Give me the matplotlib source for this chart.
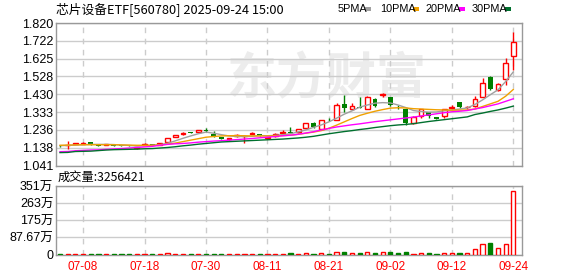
import numpy as np
import matplotlib
matplotlib.use('Agg')
import matplotlib.pyplot as plt
from matplotlib.patches import Rectangle

plt.rcParams['font.family'] = ['Noto Sans CJK SC', 'DejaVu Sans']

# daily data 2025-07-03 .. 2025-09-24
dates = ['07-03', '07-04', '07-07', '07-08', '07-09', '07-10', '07-11', '07-14', '07-15', '07-16',
         '07-17', '07-18', '07-21', '07-22', '07-23', '07-24', '07-25', '07-28', '07-29', '07-30',
         '07-31', '08-01', '08-04', '08-05', '08-06', '08-07', '08-08', '08-11', '08-12', '08-13',
         '08-14', '08-15', '08-18', '08-19', '08-20', '08-21', '08-22', '08-25', '08-26', '08-27',
         '08-28', '08-29', '09-01', '09-02', '09-03', '09-04', '09-05', '09-08', '09-09', '09-10',
         '09-11', '09-12', '09-15', '09-16', '09-17', '09-18', '09-19', '09-22', '09-23', '09-24']

opens = [1.149, 1.152, 1.160, 1.160, 1.168, 1.152, 1.156, 1.152, 1.151, 1.151,
         1.137, 1.155, 1.160, 1.154, 1.170, 1.198, 1.212, 1.223, 1.224, 1.238,
         1.214, 1.196, 1.185, 1.205, 1.200, 1.216, 1.212, 1.190, 1.200, 1.218,
         1.227, 1.222, 1.245, 1.276, 1.241, 1.292, 1.292, 1.378, 1.350, 1.362,
         1.352, 1.407, 1.426, 1.416, 1.362, 1.348, 1.275, 1.310, 1.334, 1.304,
         1.310, 1.358, 1.389, 1.359, 1.365, 1.416, 1.523, 1.452, 1.514, 1.637]
closes = [1.147, 1.155, 1.163, 1.164, 1.156, 1.150, 1.159, 1.149, 1.149, 1.149,
          1.142, 1.160, 1.156, 1.165, 1.192, 1.208, 1.217, 1.220, 1.236, 1.228,
          1.199, 1.188, 1.191, 1.208, 1.204, 1.219, 1.205, 1.196, 1.211, 1.226,
          1.218, 1.242, 1.272, 1.250, 1.290, 1.289, 1.373, 1.355, 1.364, 1.358,
          1.418, 1.366, 1.430, 1.370, 1.359, 1.271, 1.308, 1.348, 1.310, 1.298,
          1.348, 1.361, 1.360, 1.361, 1.406, 1.492, 1.462, 1.488, 1.600, 1.716]
highs = [1.151, 1.176, 1.166, 1.168, 1.170, 1.153, 1.161, 1.156, 1.152, 1.153,
         1.143, 1.163, 1.161, 1.167, 1.193, 1.210, 1.222, 1.224, 1.237, 1.245,
         1.230, 1.197, 1.193, 1.215, 1.206, 1.225, 1.213, 1.197, 1.220, 1.234,
         1.250, 1.243, 1.274, 1.278, 1.292, 1.300, 1.382, 1.427, 1.382, 1.415,
         1.419, 1.409, 1.440, 1.418, 1.372, 1.350, 1.310, 1.352, 1.336, 1.306,
         1.352, 1.370, 1.390, 1.368, 1.422, 1.519, 1.528, 1.490, 1.628, 1.769]
lows = [1.145, 1.133, 1.158, 1.157, 1.155, 1.148, 1.154, 1.148, 1.148, 1.147,
        1.134, 1.153, 1.155, 1.152, 1.168, 1.196, 1.210, 1.219, 1.223, 1.226,
        1.198, 1.186, 1.183, 1.198, 1.165, 1.214, 1.204, 1.189, 1.198, 1.217,
        1.217, 1.220, 1.243, 1.248, 1.239, 1.283, 1.290, 1.336, 1.345, 1.355,
        1.349, 1.362, 1.415, 1.368, 1.350, 1.262, 1.268, 1.300, 1.300, 1.296,
        1.300, 1.350, 1.357, 1.352, 1.360, 1.414, 1.455, 1.450, 1.482, 1.561]

# moving averages as shown on the chart
ma5 = [1.150, 1.151, 1.153, 1.155, 1.157, 1.157, 1.157, 1.156, 1.153, 1.151,
       1.148, 1.150, 1.152, 1.155, 1.163, 1.176, 1.190, 1.203, 1.215, 1.224,
       1.218, 1.210, 1.203, 1.200, 1.199, 1.201, 1.205, 1.204, 1.206, 1.210,
       1.215, 1.225, 1.236, 1.250, 1.263, 1.280, 1.300, 1.322, 1.340, 1.360,
       1.372, 1.382, 1.385, 1.383, 1.372, 1.358, 1.342, 1.336, 1.333, 1.334,
       1.340, 1.345, 1.350, 1.356, 1.375, 1.400, 1.428, 1.455, 1.500, 1.553]
ma10 = [1.152, 1.153, 1.154, 1.155, 1.155, 1.155, 1.155, 1.155, 1.154, 1.153,
        1.152, 1.152, 1.152, 1.154, 1.158, 1.164, 1.172, 1.180, 1.188, 1.196,
        1.200, 1.203, 1.204, 1.205, 1.204, 1.203, 1.203, 1.203, 1.204, 1.205,
        1.207, 1.212, 1.218, 1.224, 1.232, 1.245, 1.262, 1.280, 1.298, 1.315,
        1.327, 1.338, 1.347, 1.355, 1.357, 1.356, 1.352, 1.350, 1.348, 1.346,
        1.345, 1.344, 1.344, 1.345, 1.350, 1.364, 1.378, 1.392, 1.420, 1.457]
ma20 = [1.117, 1.118, 1.122, 1.124, 1.126, 1.127, 1.130, 1.132, 1.134, 1.137,
        1.140, 1.143, 1.146, 1.152, 1.157, 1.160, 1.162, 1.165, 1.169, 1.172,
        1.175, 1.177, 1.180, 1.183, 1.186, 1.189, 1.193, 1.196, 1.200, 1.204,
        1.207, 1.212, 1.219, 1.226, 1.236, 1.244, 1.252, 1.258, 1.264, 1.269,
        1.275, 1.281, 1.286, 1.291, 1.296, 1.301, 1.306, 1.312, 1.318, 1.324,
        1.330, 1.335, 1.338, 1.342, 1.350, 1.358, 1.368, 1.378, 1.392, 1.406]
ma30 = [1.112, 1.113, 1.118, 1.119, 1.120, 1.123, 1.126, 1.128, 1.129, 1.130,
        1.131, 1.133, 1.134, 1.137, 1.140, 1.144, 1.149, 1.153, 1.158, 1.162,
        1.166, 1.170, 1.172, 1.174, 1.176, 1.178, 1.180, 1.182, 1.184, 1.186,
        1.189, 1.192, 1.196, 1.201, 1.208, 1.215, 1.221, 1.227, 1.232, 1.238,
        1.243, 1.249, 1.254, 1.259, 1.263, 1.266, 1.270, 1.276, 1.282, 1.287,
        1.292, 1.297, 1.302, 1.307, 1.320, 1.328, 1.337, 1.345, 1.355, 1.366]

volumes = [38000, 42000, 35000, 36000, 33000, 30000, 34000, 31000, 30000, 32000,
           36000, 35000, 30000, 37000, 95000, 40000, 38000, 36000, 42000, 35000,
           37000, 34000, 33000, 36000, 40000, 38000, 35000, 36000, 40000, 39000,
           75000, 45000, 80000, 42000, 85000, 40000, 125000, 145000, 70000, 80000,
           120000, 75000, 150000, 120000, 75000, 130000, 40000, 65000, 70000, 45000,
           100000, 70000, 70000, 65000, 260000, 520000, 600000, 310000, 560000, 3256421]

price_ticks = [1.041, 1.138, 1.236, 1.333, 1.430, 1.528, 1.625, 1.722, 1.820]
vol_ticks = [0, 876700, 1750000, 2630000, 3510000]
vol_labels = ['0', '87.67万', '175万', '263万', '351万']
date_ticks = ['07-08', '07-18', '07-30', '08-11', '08-21', '09-02', '09-12', '09-24']

RED = '#ff0000'
GREEN = '#008000'
GRID = '#cccccc'
FRAME = '#999999'
NUM_FONT = ['Liberation Sans', 'Noto Sans CJK SC']

o = np.array(opens)
c = np.array(closes)
h = np.array(highs)
l = np.array(lows)
x = np.arange(len(dates))
prev = np.r_[c[0], c[:-1]]
is_red = (c > o) | ((c == o) & (c >= prev))

W, H = 578, 276
fig = plt.figure(figsize=(W / 100, H / 100), dpi=100)

def box(left, top, right, bottom):
    return [left / W, 1 - bottom / H, (right - left) / W, (bottom - top) / H]

ax = fig.add_axes(box(56, 23, 522, 165.6))
axv = fig.add_axes(box(56, 186, 522, 254.5), sharex=ax)

# watermark
ax.text(0.58, 0.6, '东方财富', transform=ax.transAxes, fontsize=36, color='#ececec',
        fontweight='bold', style='italic', ha='center', va='center', zorder=0.5)

# candles
bw = 0.62
body_lo = np.minimum(o, c)
body_hi = np.maximum(o, c)
ax.vlines(x[is_red], l[is_red], body_lo[is_red], color=RED, lw=1, zorder=2)
ax.vlines(x[is_red], body_hi[is_red], h[is_red], color=RED, lw=1, zorder=2)
ax.vlines(x[~is_red], l[~is_red], h[~is_red], color=GREEN, lw=1, zorder=2)
hollow = is_red & (c > o)
ax.bar(x[hollow], (body_hi - body_lo)[hollow], bottom=body_lo[hollow], width=bw,
       facecolor='white', edgecolor=RED, lw=1, zorder=3)
filled_red = is_red & ~hollow
ax.bar(x[filled_red], np.maximum(body_hi - body_lo, 0.0015)[filled_red], bottom=body_lo[filled_red],
       width=bw, color=RED, lw=0, zorder=3)
ax.bar(x[~is_red], np.maximum(body_hi - body_lo, 0.0015)[~is_red], bottom=body_lo[~is_red],
       width=bw, color=GREEN, lw=0, zorder=3)

# moving averages
ma_colors = ['#a0a0a0', '#f0a000', '#ff00ff', '#00702e']
for ma, col in zip([ma5, ma10, ma20, ma30], ma_colors):
    ax.plot(x, ma, color=col, lw=1, zorder=4)

ax.set_ylim(price_ticks[0], price_ticks[-1])
ax.set_yticks(price_ticks)
ax.set_yticklabels(['%.3f' % p for p in price_ticks], family=NUM_FONT, fontsize=9)
ax.set_xlim(-0.52, 60.13)
tick_pos = [dates.index(d) for d in date_ticks]
ax.set_xticks(tick_pos)
ax.tick_params(axis='x', labelbottom=False, length=0)
ax.tick_params(axis='y', length=0, pad=2)
ax.grid(axis='y', color=GRID, lw=1, zorder=0)
ax.grid(axis='x', color=GRID, lw=1, ls=(0, (4, 4)), zorder=0)

# volume
vol_face = np.where(is_red & (c > o), 'white', np.where(is_red, RED, GREEN))
vol_edge = np.where(is_red, RED, GREEN)
axv.bar(x, volumes, width=0.55, color=vol_face, edgecolor=vol_edge, lw=1, zorder=3)
axv.set_ylim(0, vol_ticks[-1])
axv.set_yticks(vol_ticks)
axv.set_yticklabels(vol_labels, family=NUM_FONT, fontsize=9)
axv.set_xticks(tick_pos)
axv.set_xticklabels(date_ticks, family=NUM_FONT, fontsize=8.5, color=RED)
axv.tick_params(axis='x', length=0, pad=5)
axv.tick_params(axis='y', length=0, pad=2)
axv.grid(axis='y', color=GRID, lw=1, zorder=0)
axv.grid(axis='x', color=GRID, lw=1, ls=(0, (4, 4)), zorder=0)

for a in (ax, axv):
    a.set_axisbelow(True)
    for s in a.spines.values():
        s.set_color(FRAME)
        s.set_linewidth(1)

# header texts
fig.text(56 / W, 1 - 9 / H, '芯片设备ETF[560780] 2025-09-24 15:00', fontsize=9.2,
         va='center', ha='left')
fig.text(58 / W, 1 - 177 / H, '成交量:3256421', fontsize=8.8, va='center', ha='left')

legend_items = [('5PMA', 338, 365), ('10PMA', 380, 413), ('20PMA', 425, 459), ('30PMA', 472, 505)]
for (name, tx, sx), col in zip(legend_items, ma_colors):
    fig.text(tx / W, 1 - 9 / H, name, fontsize=7.8, family=NUM_FONT, va='center', ha='left')
    fig.patches.append(Rectangle((sx / W, 1 - 11 / H), 6 / W, 4 / H, transform=fig.transFigure,
                                 facecolor=col, edgecolor='none'))

fig.savefig('out.png', dpi=100)
